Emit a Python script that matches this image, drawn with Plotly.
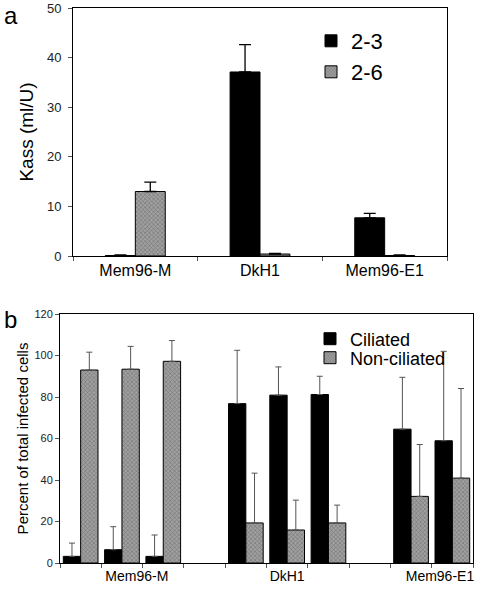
import plotly.graph_objects as go

# ---------- Panel a data ----------
strains_a = ["Mem96-M", "DkH1", "Mem96-E1"]
kass_23 = [0.1, 37.1, 7.7]
kass_23_err = [0.1, 5.5, 0.9]
kass_26 = [13.0, 0.4, 0.1]
kass_26_err = [1.9, 0.1, 0.1]

# ---------- Panel b data ----------
strain_groups_b = ["Mem96-M", "DkH1", "Mem96-E1"]
replicates_b = [3, 3, 2]
ciliated = [3.2, 6.4, 3.2, 76.8, 80.9, 81.2, 64.5, 58.9]
ciliated_err = [6.4, 11.1, 10.3, 25.7, 13.6, 8.8, 25.0, 43.1]
nonciliated = [93.0, 93.4, 97.2, 19.3, 15.9, 19.3, 32.1, 40.9]
nonciliated_err = [8.6, 11.0, 10.0, 24.0, 14.4, 8.6, 25.0, 43.2]
label_pos_b = [1.36, 5.0, 8.7]

FONT = "Liberation Sans, Arial, sans-serif"
GRAY_PATTERN = dict(shape="x", fgcolor="#444444", bgcolor="#a0a0a0", size=3, solidity=0.35)

# bar positions for panel b: groups separated by one empty slot
xpos_b = []
start = 0
for n in replicates_b:
    xpos_b += [start + i for i in range(n)]
    start += n + 1

fig = go.Figure()

# Panel a
fig.add_trace(go.Bar(
    x=strains_a, y=kass_23, name="2-3", xaxis="x", yaxis="y",
    marker=dict(color="black", line=dict(color="black", width=1)),
    error_y=dict(type="data", array=kass_23_err, symmetric=False, arrayminus=[0]*3,
                 color="black", thickness=1.3, width=6),
    legend="legend",
))
fig.add_trace(go.Bar(
    x=strains_a, y=kass_26, name="2-6", xaxis="x", yaxis="y",
    marker=dict(color="#a0a0a0", pattern=GRAY_PATTERN, line=dict(color="black", width=1)),
    error_y=dict(type="data", array=kass_26_err, symmetric=False, arrayminus=[0]*3,
                 color="black", thickness=1.3, width=6),
    legend="legend2",
))

# Panel b
fig.add_trace(go.Bar(
    x=xpos_b, y=ciliated, name="Ciliated", xaxis="x2", yaxis="y2",
    marker=dict(color="black", line=dict(color="black", width=1)),
    error_y=dict(type="data", array=ciliated_err, symmetric=False, arrayminus=[0]*len(ciliated),
                 color="#555555", thickness=1, width=3),
    legend="legend3",
))
fig.add_trace(go.Bar(
    x=xpos_b, y=nonciliated, name="Non-ciliated", xaxis="x2", yaxis="y2",
    marker=dict(color="#a0a0a0", pattern=GRAY_PATTERN, line=dict(color="black", width=1)),
    error_y=dict(type="data", array=nonciliated_err, symmetric=False, arrayminus=[0]*len(nonciliated),
                 color="#555555", thickness=1, width=3),
    legend="legend4",
))

W, H = 482, 590
axline = dict(showline=True, linecolor="black", linewidth=1, mirror=True, showgrid=False,
              zeroline=False, automargin=False)


def leg(x_px, yc_px, size):
    return dict(x=x_px/W, y=1-yc_px/H, xanchor="left", yanchor="middle",
                font=dict(size=size), bgcolor="rgba(0,0,0,0)", itemwidth=30,
                tracegroupgap=0)


fig.update_layout(
    width=W, height=H,
    margin=dict(l=0, r=0, t=0, b=0, autoexpand=False),
    paper_bgcolor="white", plot_bgcolor="white",
    font=dict(family=FONT, color="black"),
    barmode="group",
    bargap=0.52, bargroupgap=0,
    showlegend=True,
    xaxis=dict(domain=[73/W, 447/W], anchor="y", type="category", tickson="boundaries",
               ticks="outside", ticklen=4, tickcolor="#555", tickfont=dict(size=16),
               **axline),
    yaxis=dict(domain=[1-256/H, 1-8/H], anchor="x", range=[0, 50], dtick=10,
               ticks="outside", ticklen=4, tickcolor="#555", tickfont=dict(size=13, color="#222"),
               ticklabelstandoff=4,
               title=dict(text="Kass (ml/U)", font=dict(size=19), standoff=8),
               **axline),
    xaxis2=dict(domain=[60/W, 473/W], anchor="y2", range=[-0.5, 9.5],
                tickmode="array", tickvals=label_pos_b, ticktext=strain_groups_b,
                ticks="", tickfont=dict(size=14),
                minor=dict(tickmode="array", tickvals=[i - 0.5 for i in range(11)],
                           ticks="outside", ticklen=4, tickcolor="#555"),
                **axline),
    yaxis2=dict(domain=[1-563/H, 1-314/H], anchor="x2", range=[0, 120], dtick=20,
                ticks="outside", ticklen=4, tickcolor="#555", tickfont=dict(size=11, color="#222"),
                title=dict(text="Percent of total infected cells", font=dict(size=15), standoff=2),
                **axline),
    legend=leg(311, 41, 22),
    legend2=leg(311, 72, 22),
    legend3=leg(310, 339, 18),
    legend4=leg(310, 358, 18),
    annotations=[
        dict(text="a", x=2/W, y=1-0/H, xref="paper", yref="paper", xanchor="left", yanchor="top",
             showarrow=False, font=dict(size=24)),
        dict(text="b", x=2/W, y=1-304/H, xref="paper", yref="paper", xanchor="left", yanchor="top",
             showarrow=False, font=dict(size=24)),
    ],
)
fig.update_traces(selector=dict(xaxis="x2"), width=0.42)
fig.data[2].update(offset=-0.42)
fig.data[3].update(offset=0.0)

fig.write_html("out.html", config={"displayModeBar": False},
               post_script="document.body.style.margin='0';")
